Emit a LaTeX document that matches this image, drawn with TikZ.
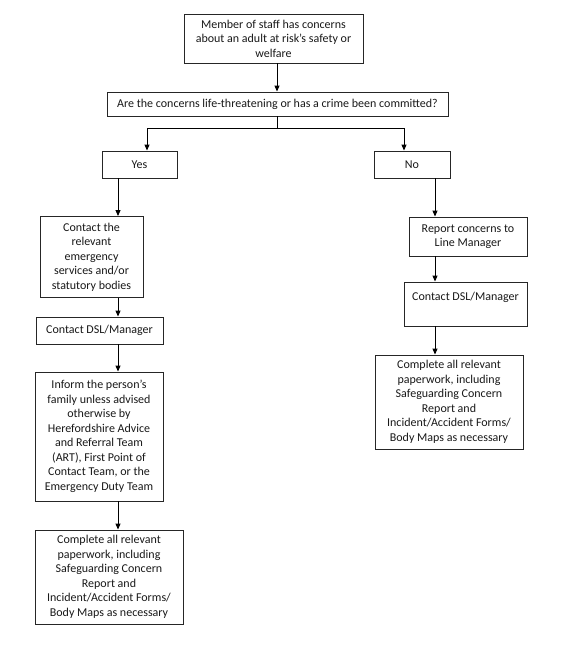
\documentclass[tikz,border=0pt]{standalone}
\usepackage{fontspec}
\setmainfont{Carlito}
\usetikzlibrary{arrows.meta}
\begin{document}
\begin{tikzpicture}[x=1pt,y=-1pt,
  box/.style={draw=black!85,line width=0.9pt,align=center,inner sep=0pt,
              font=\fontsize{12}{14.5}\selectfont,text=black!90},
  arr/.style={line width=1pt,-{Triangle[length=6pt,width=5pt]}}]
\useasboundingbox[fill=white] (0,0) rectangle (579,656);
\node[box,minimum width=179pt,minimum height=49pt] (top) at (273.5,38.5)
  {Member of staff has concerns\\about an adult at risk’s safety or\\welfare};
\node[box,minimum width=341pt,minimum height=24pt] (q) at (277.5,104)
  {Are the concerns life-threatening or has a crime been committed?};
\node[box,minimum width=75pt,minimum height=27pt] (yes) at (139.5,164.5) {Yes};
\node[box,minimum width=76pt,minimum height=27pt] (no) at (412,164.5) {No};
% left column
\node[box,minimum width=103pt,minimum height=81pt] (contact) at (91.5,257)
  {Contact the\\relevant\\emergency\\services and/or\\statutory bodies};
\node[box,minimum width=127pt,minimum height=27pt] (dslL) at (99.5,330.5)
  {Contact DSL/Manager};
\node[box,minimum width=128pt,minimum height=129pt] (inform) at (99,436.5)
  {Inform the person’s\\family unless advised\\otherwise by\\Herefordshire Advice\\and Referral Team\\(ART), First Point of\\Contact Team, or the\\Emergency Duty Team};
\node[box,minimum width=148pt,minimum height=94pt] (compL) at (109,577)
  {Complete all relevant\\paperwork, including\\Safeguarding Concern\\Report and\\Incident/Accident Forms/\\Body Maps as necessary};
% right column
\node[box,minimum width=118pt,minimum height=39pt] (report) at (468,236.5)
  {Report concerns to\\Line Manager};
\node[box,minimum width=123pt,minimum height=44pt] (dslR) at (465.5,304)
  {Contact DSL/Manager\\\mbox{}};
\node[box,minimum width=148pt,minimum height=94pt] (compR) at (449,402)
  {Complete all relevant\\paperwork, including\\Safeguarding Concern\\Report and\\Incident/Accident Forms/\\Body Maps as necessary};
% connectors
\coordinate (jl) at (147,128);
\coordinate (jr) at (404,128);
\coordinate (ct) at (277,0);
\coordinate (cl) at (118,0);
\coordinate (cr) at (435,0);
\draw[arr] (top.south -| ct) -- (q.north -| ct);
\draw[arr] (q.south -| ct) |- (jl) -- (jl |- yes.north);
\draw[arr] (q.south -| ct) |- (jr) -- (jr |- no.north);
\draw[arr] (yes.south -| cl) -- (contact.north -| cl);
\draw[arr] (contact.south -| cl) -- (dslL.north -| cl);
\draw[arr] (dslL.south -| cl) -- (inform.north -| cl);
\draw[arr] (inform.south -| cl) -- (compL.north -| cl);
\draw[arr] (no.south -| cr) -- (report.north -| cr);
\draw[arr] (report.south -| cr) -- (dslR.north -| cr);
\draw[arr] (dslR.south -| cr) -- (compR.north -| cr);
\end{tikzpicture}
\end{document}
